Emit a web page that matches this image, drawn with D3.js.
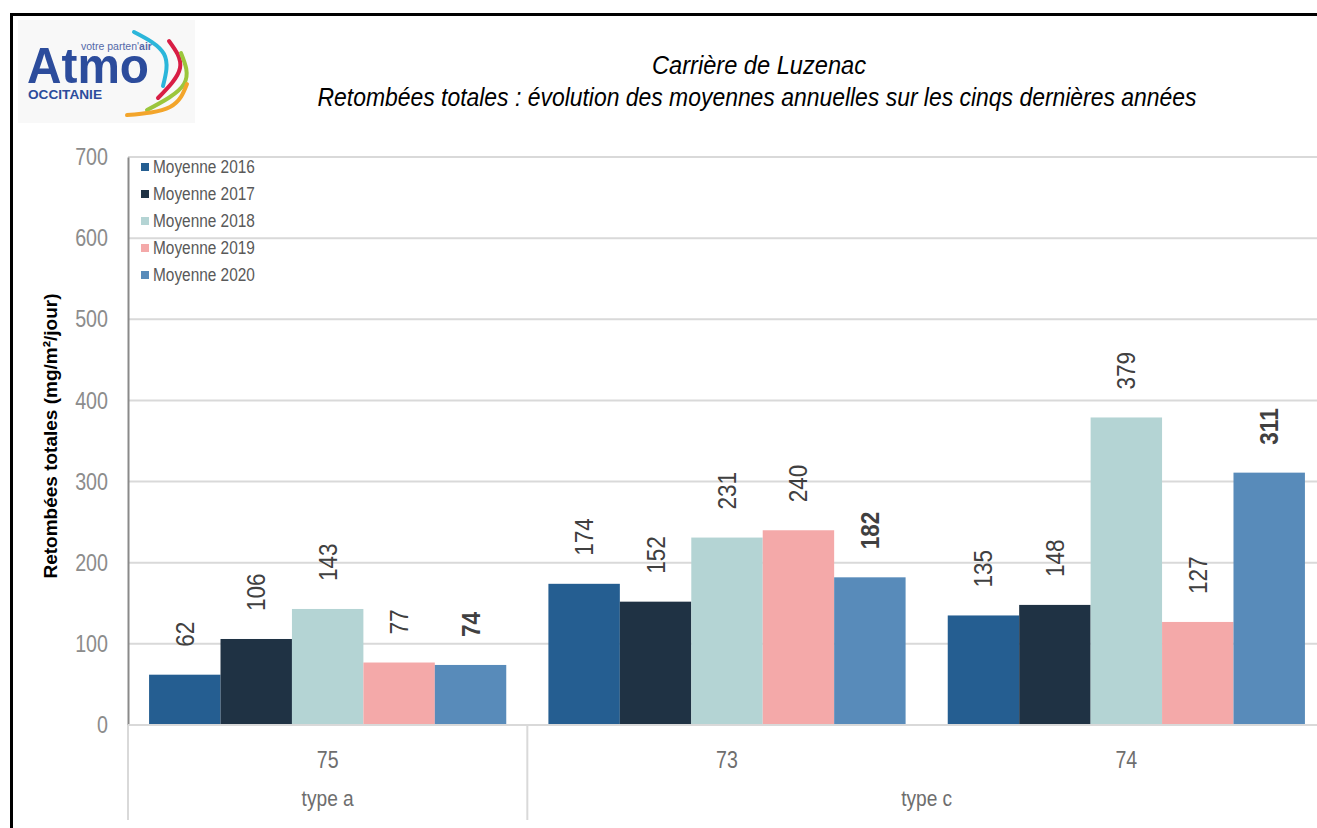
<!DOCTYPE html>
<html>
<head>
<meta charset="utf-8">
<script src="https://cdn.jsdelivr.net/npm/d3@7"></script>
<style>
  body { margin: 0; background: #fff; }
  svg { display: block; }
  text { font-family: "Liberation Sans", Arial, sans-serif; }
</style>
</head>
<body>
<div id="chart"></div>
<script>
// categories (two-level axis)
let sites = ["75", "73", "74"];
let siteTypes = [{ label: "type a", from: "75", to: "75" }, { label: "type c", from: "73", to: "74" }];

// series
let seriesNames = ["Moyenne 2016", "Moyenne 2017", "Moyenne 2018", "Moyenne 2019", "Moyenne 2020"];
let seriesColors = ["#255E91", "#1F3244", "#B4D4D4", "#F4A9A9", "#588BBA"];
let values2016 = [62, 174, 135];
let values2017 = [106, 152, 148];
let values2018 = [143, 231, 379];
let values2019 = [77, 240, 127];
let values2020 = [74, 182, 311];

// y ticks
let yTicks = [0, 100, 200, 300, 400, 500, 600, 700];

let titleLine1 = "Carrière de Luzenac";
let titleLine2 = "Retombées totales : évolution des moyennes annuelles sur les cinqs dernières années";
let yTitle = "Retombées totales (mg/m²/jour)";

let W = 1317, H = 828;
let plot = { left: 128, right: 1326, top: 157, bottom: 725 };

let allValues = [values2016, values2017, values2018, values2019, values2020];
let rows = [];
seriesNames.forEach((s, i) => {
  sites.forEach((c, j) => {
    rows.push({ series: s, site: c, value: allValues[i][j], idx: i });
  });
});

// the original uses a condensed face, none installed: squeeze the glyphs instead
function squeeze(sel, k) {
  sel.each(function () {
    let n = this.getComputedTextLength();
    this.setAttribute("textLength", n * k);
    this.setAttribute("lengthAdjust", "spacingAndGlyphs");
  });
}

function fitTo(sel, w) {
  sel.attr("textLength", w).attr("lengthAdjust", "spacingAndGlyphs");
}

let svg = d3.select("#chart")
  .append("svg")
  .attr("width", W)
  .attr("height", H);

// outer frame
svg.append("rect")
  .attr("x", 11.5)
  .attr("y", 14.5)
  .attr("width", W + 20)
  .attr("height", H + 20)
  .attr("fill", "none")
  .attr("stroke", "#000")
  .attr("stroke-width", 3);

// logo
let logo = svg.append("g").attr("class", "logo");
logo.append("rect")
  .attr("x", 18).attr("y", 20)
  .attr("width", 177).attr("height", 103)
  .attr("fill", "#f8f8f8");

let arcs = [
  { c: "#2BB6DA", p: [[134, 32], [164, 54], [163, 86]] },
  { c: "#D81E45", p: [[169, 41], [180, 68], [158, 98]] },
  { c: "#9CC63C", p: [[181, 53], [184, 84], [147, 110]] },
  { c: "#F3A52B", p: [[187, 84], [170, 107], [127, 115]] }
];
let arcLine = d3.line().curve(d3.curveNatural);
logo.selectAll("path.swoosh")
  .data(arcs)
  .enter().append("path")
  .attr("class", "swoosh")
  .attr("d", (d) => arcLine(d.p))
  .attr("fill", "none")
  .attr("stroke", (d) => d.c)
  .attr("stroke-width", 4)
  .attr("stroke-linecap", "round");

logo.append("text")
  .attr("x", 27).attr("y", 83)
  .attr("font-weight", "bold")
  .attr("font-size", 50)
  .attr("fill", "#2C4C9C")
  .text("Atmo")
  .call(fitTo, 122);

let tag = logo.append("text")
  .attr("x", 81).attr("y", 50)
  .attr("font-size", 10.5)
  .attr("fill", "#5468A8");
tag.append("tspan").text("votre parten'");
tag.append("tspan").attr("font-weight", "bold").text("air");

logo.append("text")
  .attr("x", 28).attr("y", 99)
  .attr("font-weight", "bold")
  .attr("font-size", 12)
  .attr("fill", "#2C4C9C")
  .text("OCCITANIE")
  .call(fitTo, 74);

// titles
svg.append("text")
  .attr("x", 759).attr("y", 74)
  .attr("text-anchor", "middle")
  .attr("font-style", "italic")
  .attr("font-size", 26)
  .attr("fill", "#000")
  .text(titleLine1)
  .call(fitTo, 214);

svg.append("text")
  .attr("x", 757).attr("y", 106)
  .attr("text-anchor", "middle")
  .attr("font-style", "italic")
  .attr("font-size", 26)
  .attr("fill", "#000")
  .text(titleLine2)
  .call(fitTo, 879);

// scales
let x0 = d3.scaleBand()
  .domain(sites)
  .range([plot.left, plot.right])
  .paddingInner(0)
  .paddingOuter(0);

let x1 = d3.scaleBand()
  .domain(seriesNames)
  .range([0, x0.bandwidth()])
  .paddingInner(0)
  .paddingOuter(0.295);

let y = d3.scaleLinear()
  .domain([0, 700])
  .range([plot.bottom, plot.top]);

let color = d3.scaleOrdinal()
  .domain(seriesNames)
  .range(seriesColors);

// gridlines
svg.append("g")
  .attr("class", "grid")
  .selectAll("line")
  .data(yTicks.filter((t) => t > 0))
  .enter().append("line")
  .attr("x1", plot.left)
  .attr("x2", W)
  .attr("y1", (d) => y(d))
  .attr("y2", (d) => y(d))
  .attr("stroke", "#d9d9d9")
  .attr("stroke-width", 2);

// y axis
let yAxis = svg.append("g")
  .attr("transform", "translate(" + plot.left + ",0)")
  .call(d3.axisLeft(y).tickValues(yTicks).tickSize(0).tickPadding(20));
yAxis.select(".domain").attr("stroke", "#8a8a8a").attr("stroke-width", 2);
yAxis.selectAll("text")
  .attr("font-family", null)
  .attr("font-size", 24)
  .attr("fill", "#8c8c8c")
  .call(squeeze, 0.82);

svg.append("text")
  .attr("transform", "translate(57," + 436 + ") rotate(-90)")
  .attr("text-anchor", "middle")
  .attr("font-weight", "bold")
  .attr("font-size", 19)
  .attr("fill", "#000")
  .text(yTitle);

// bars
svg.append("g")
  .attr("class", "bars")
  .selectAll("rect")
  .data(rows)
  .enter().append("rect")
  .attr("x", (d) => x0(d.site) + x1(d.series))
  .attr("y", (d) => y(d.value))
  .attr("width", x1.bandwidth())
  .attr("height", (d) => y(0) - y(d.value))
  .attr("fill", (d) => color(d.series));

// value labels
svg.append("g")
  .attr("class", "labels")
  .selectAll("text")
  .data(rows)
  .enter().append("text")
  .attr("transform", (d) => "translate(" + (x0(d.site) + x1(d.series) + x1.bandwidth() / 2) + "," + (y(d.value) - 28) + ") rotate(-90)")
  .attr("dominant-baseline", "central")
  .attr("font-size", 25)
  .attr("font-weight", (d) => d.idx === 4 ? "bold" : "normal")
  .attr("fill", "#404040")
  .text((d) => d.value)
  .call(squeeze, 0.9);

// baseline
svg.append("line")
  .attr("x1", plot.left).attr("x2", W)
  .attr("y1", y(0)).attr("y2", y(0))
  .attr("stroke", "#d9d9d9")
  .attr("stroke-width", 2);

// category axis
let cat = svg.append("g").attr("class", "cat");
cat.selectAll("text.site")
  .data(sites)
  .enter().append("text")
  .attr("class", "site")
  .attr("x", (d) => x0(d) + x0.bandwidth() / 2)
  .attr("y", 768)
  .attr("text-anchor", "middle")
  .attr("font-size", 23)
  .attr("fill", "#6e6e6e")
  .text((d) => d)
  .call(squeeze, 0.85);

cat.selectAll("text.type")
  .data(siteTypes)
  .enter().append("text")
  .attr("class", "type")
  .attr("x", (d) => (x0(d.from) + x0(d.to) + x0.bandwidth()) / 2)
  .attr("y", 806)
  .attr("text-anchor", "middle")
  .attr("font-size", 22)
  .attr("fill", "#6e6e6e")
  .text((d) => d.label)
  .call(squeeze, 0.87);

let seps = [plot.left].concat(siteTypes.slice(1).map((d) => x0(d.from)));
cat.selectAll("line")
  .data(seps)
  .enter().append("line")
  .attr("x1", (d) => d).attr("x2", (d) => d)
  .attr("y1", y(0)).attr("y2", 820)
  .attr("stroke", "#d9d9d9")
  .attr("stroke-width", 2);

// legend
let legend = svg.append("g")
  .attr("class", "legend")
  .attr("transform", "translate(141,167)");
let items = legend.selectAll("g")
  .data(seriesNames)
  .enter().append("g")
  .attr("transform", (d, i) => "translate(0," + i * 27 + ")");
items.append("rect")
  .attr("x", 0).attr("y", -4)
  .attr("width", 8).attr("height", 8)
  .attr("fill", (d) => color(d));
items.append("text")
  .attr("x", 12)
  .attr("y", 0)
  .attr("dominant-baseline", "central")
  .attr("font-size", 18)
  .attr("fill", "#595959")
  .text((d) => d)
  .call(squeeze, 0.855);
</script>
</body>
</html>
